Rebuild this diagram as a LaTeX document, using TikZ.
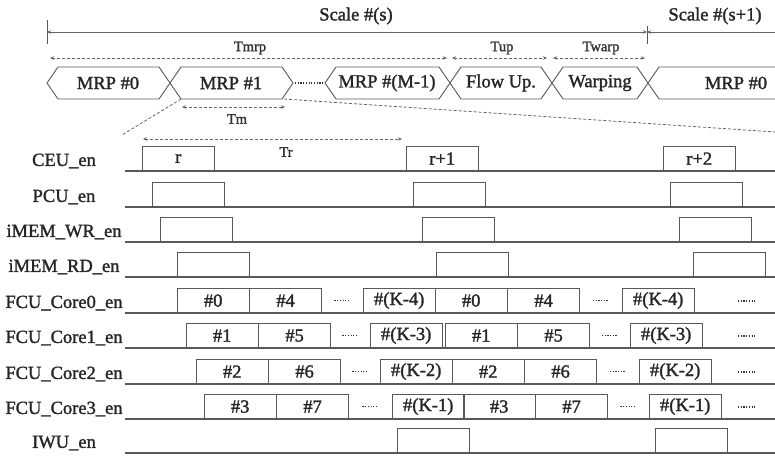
\documentclass[tikz,border=0pt]{standalone}
\usepackage{fontspec}
\setmainfont{Liberation Serif}
\newfontfamily\lblfont{Liberation Serif}[FakeBold=1.6]
\usetikzlibrary{arrows.meta, calc}
\begin{document}
\begin{tikzpicture}[
    x=1pt, y=-1pt,
    ln/.style={draw=black!65, line width=0.9pt},
    base/.style={black!65, line width=1.4pt},
    lbl/.style={text=black!85, font=\lblfont\fontsize{18.5}{18.5}\selectfont, inner sep=0pt},
    tlbl/.style={text=black!80, font=\lblfont\fontsize{14.5}{14.5}\selectfont, inner sep=0pt},
    pulse/.style={draw=black!65, line width=0.9pt, minimum width=71.5pt, minimum height=24pt,
                  inner sep=0pt, anchor=south west, text=black!85, font=\lblfont\fontsize{18.5}{18.5}\selectfont},
    span/.style={black!60, line width=0.7pt, {Stealth[length=4pt,width=3.5pt]}-{Stealth[length=4pt,width=3.5pt]}},
    tspan/.style={span, densely dashed},
    more/.style={black!80, line width=1.3pt, dash pattern=on 1.2pt off 1.5pt},
]
    \useasboundingbox (0,0) rectangle (775,455);

    % Scale spans on top
    \draw[ln] (47,20) -- (47,44);
    \draw[ln] (647,26) -- (647,44);
    \coordinate (s0) at (47,32);
    \coordinate (s1) at (647,32);
    \coordinate (s2) at (775,32);
    \draw[span] (s0) -- (s1);
    \draw[black!60, line width=0.7pt, {Stealth[length=4pt,width=3.5pt]}-] (s1) -- (s2);
    \node[lbl] (scale) at (356,16) {Scale \#(s)};
    \node[lbl] (scalenext) at (715,16) {Scale \#(s+1)};

    % Phase durations
    \coordinate (tmrpL) at (50,58);  \coordinate (tmrpR) at (447,58);
    \coordinate (tupL) at (452,58);  \coordinate (tupR) at (547,58);
    \coordinate (twL) at (553,58);   \coordinate (twR) at (645,58);
    \draw[tspan] (tmrpL) -- (tmrpR);
    \draw[tspan] (tupL) -- (tupR);
    \draw[tspan] (twL) -- (twR);
    \node[tlbl] (tmrp) at (250,48) {Tmrp};
    \node[tlbl] (tup) at (502,48) {Tup};
    \node[tlbl] (twarp) at (601,48) {Twarp};

    % Phase hexagons
    \foreach \a/\b in {47/170, 170/293, 325/450, 450/552, 552/648}
      \draw[ln] (\a,83) -- (\a+11,67) -- (\b-11,67) -- (\b,83) -- (\b-11,99) -- (\a+11,99) -- cycle;
    \draw[ln] (775,67) -- (659,67) -- (648,83) -- (659,99) -- (775,99);
    \draw[more] (295,83) -- (323,83);
    \node[lbl] (mrp0) at (108,83) {MRP \#0};
    \node[lbl] (mrp1) at (231,83) {MRP \#1};
    \node[lbl] (mrpm) at (387,83) {MRP \#(M-1)};
    \node[lbl] (flow) at (501,83) {Flow Up.};
    \node[lbl] (warp) at (600,83) {Warping};
    \node[lbl] (mrpnext) at (736,83) {MRP \#0};

    % MRP duration and zoom lines
    \coordinate (tmL) at (182,107);  \coordinate (tmR) at (285,107);
    \draw[tspan] (tmL) -- (tmR);
    \node[tlbl] (tm) at (237,119) {Tm};
    \coordinate (h1bl) at (181,99);  \coordinate (h1br) at (284,99);
    \coordinate (z1) at (122,135);   \coordinate (z2) at (775,132);
    \draw[black!60, line width=0.8pt, densely dashed] (h1bl) -- (z1);
    \draw[black!60, line width=0.8pt, densely dashed] (h1br) -- (z2);

    % Round duration
    \coordinate (trL) at (143,139);  \coordinate (trR) at (402,139);
    \draw[tspan] (trL) -- (trR);
    \node[tlbl] (tr) at (286,152) {Tr};

    % Signal names and base lines
    \foreach \nm/\y [count=\i] in {CEU\_en/171, PCU\_en/207, iMEM\_WR\_en/242, iMEM\_RD\_en/277,
        FCU\_Core0\_en/313, FCU\_Core1\_en/348, FCU\_Core2\_en/384, FCU\_Core3\_en/419, IWU\_en/453} {
      \node[lbl] (sig\i) at (64,\y-10) {\nm};
      \draw[base] (125,\y) -- (775,\y);
    }

    % Control pulses
    \node[pulse] (ceu1) at (142,171) {r};
    \node[pulse] (ceu2) at (406,171) {r+1};
    \node[pulse] (ceu3) at (663,171) {r+2};
    \foreach \p/\q/\r/\y [count=\i] in {152/413/670/207, 160/422/679/242, 177/436/693/277} {
      \node[pulse] (en\i a) at (\p,\y) {};
      \node[pulse] (en\i b) at (\q,\y) {};
      \node[pulse] (en\i c) at (\r,\y) {};
    }
    \node[pulse] (iwu1) at (397,453) {};
    \node[pulse] (iwu2) at (655,453) {};

    % FCU cores
    \foreach \s/\k/\t/\l/\y [count=\i from 0] in {177/363/435/622/313, 186/370/445/630/348,
        196/380/452/639/384, 204/392/463/649/419} {
      \pgfmathtruncatemacro{\j}{\i+4}
      \pgfmathtruncatemacro{\n}{4-\i}
      \node[pulse] (c\i a) at (\s,\y) {\#\i};
      \node[pulse] (c\i b) at (c\i a.south east) {\#\j};
      \node[pulse] (c\i k) at (\k,\y) {\#(K-\n)};
      \node[pulse] (c\i d) at (\t,\y) {\#\i};
      \node[pulse] (c\i e) at (c\i d.south east) {\#\j};
      \node[pulse] (c\i m) at (\l,\y) {\#(K-\n)};
      \coordinate (g\i) at ($(c\i b.east)!0.5!(c\i k.west)$);
      \coordinate (h\i) at ($(c\i e.east)!0.5!(c\i m.west)$);
      \draw[more] ([xshift=-8pt]g\i) -- ([xshift=8pt]g\i);
      \draw[more] ([xshift=-8pt]h\i) -- ([xshift=8pt]h\i);
      \draw[more] (738,\y-12) -- (756,\y-12);
    }
\end{tikzpicture}
\end{document}
